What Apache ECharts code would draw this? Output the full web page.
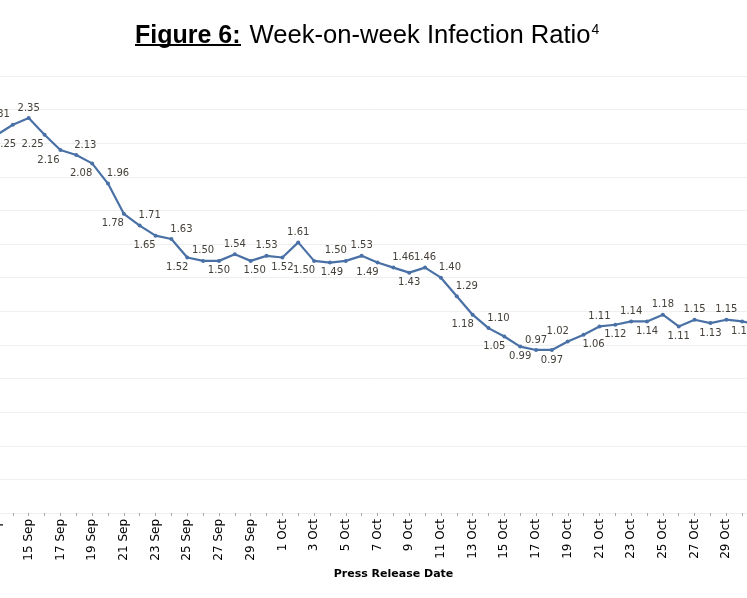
<!DOCTYPE html>
<html>
<head>
<meta charset="utf-8">
<script src="https://cdn.jsdelivr.net/npm/echarts@6/dist/echarts.min.js"></script>
<style>
  html, body { margin: 0; padding: 0; background: #fff; }
  #main { width: 747px; height: 598px; }
</style>
</head>
<body>
<div id="main"></div>
<script>
// press release dates (one per day)
var dates = [
    '13 Sep', '14 Sep', '15 Sep', '16 Sep', '17 Sep', '18 Sep', '19 Sep', '20 Sep', '21 Sep',
    '22 Sep', '23 Sep', '24 Sep', '25 Sep', '26 Sep', '27 Sep', '28 Sep', '29 Sep', '30 Sep',
    '1 Oct', '2 Oct', '3 Oct', '4 Oct', '5 Oct', '6 Oct', '7 Oct', '8 Oct', '9 Oct', '10 Oct',
    '11 Oct', '12 Oct', '13 Oct', '14 Oct', '15 Oct', '16 Oct', '17 Oct', '18 Oct', '19 Oct',
    '20 Oct', '21 Oct', '22 Oct', '23 Oct', '24 Oct', '25 Oct', '26 Oct', '27 Oct', '28 Oct',
    '29 Oct', '30 Oct', '31 Oct'
];

// week-on-week infection ratio
var ratio = [
    2.25, 2.31, 2.35, 2.25, 2.16, 2.13, 2.08, 1.96, 1.78,
    1.71, 1.65, 1.63, 1.52, 1.50, 1.50, 1.54, 1.50, 1.53,
    1.52, 1.61, 1.50, 1.49, 1.50, 1.53, 1.49, 1.46, 1.43, 1.46,
    1.40, 1.29, 1.18, 1.10, 1.05, 0.99, 0.97, 0.97, 1.02,
    1.06, 1.11, 1.12, 1.14, 1.14, 1.18, 1.11, 1.15, 1.13,
    1.15, 1.14, 1.12
];

// where each value label sits: t = above, b = below, number = sideways nudge
var labelSpots = [
    'b8', 't-14', 't0', 'b-12', 'b-12', 't9', 'b-11', 't10', 'b-11',
    't10', 'b-11', 't10', 'b-10', 't0', 'b0', 't0', 'b4', 't0',
    'b0', 't0', 'b-10', 'b2', 't-10', 't0', 'b-10', 't10', 'b0', 't0',
    't9', 't10', 'b-10', 't10', 'b-10', 'b0', 't0', 'b0', 't-10',
    'b10', 't0', 'b0', 't0', 'b0', 't0', 'b0', 't0', 'b0',
    't0', 'b0', 't0'
];

var seriesData = ratio.map(function (v, i) {
    var spot = labelSpots[i];
    return {
        value: v,
        label: {
            position: spot.charAt(0) === 't' ? 'top' : 'bottom',
            offset: [parseInt(spot.slice(1), 10) || 0, 0]
        }
    };
});

var myChart = echarts.init(document.getElementById('main'));

var option = {
    backgroundColor: '#ffffff',
    animation: false,
    title: {
        left: 135,
        top: 21,
        padding: 0,
        text: '{b|Figure 6:}{r|Week-on-week Infection Ratio}{s|4}',
        textStyle: {
            fontWeight: 'normal',
            rich: {
                b: { fontFamily: 'Liberation Sans', fontWeight: 'bold', fontSize: 25, color: '#000', lineHeight: 30 },
                r: { fontFamily: 'Liberation Sans', fontWeight: 'normal', fontSize: 25.6, color: '#000', lineHeight: 30, padding: [0, 0, 0, 9] },
                s: { fontFamily: 'Liberation Sans', fontWeight: 'normal', fontSize: 14, color: '#000', lineHeight: 30, padding: [0, 0, 12, 1] }
            }
        }
    },
    graphic: [
        {
            type: 'line',
            shape: { x1: 135, y1: 45, x2: 241, y2: 45 },
            style: { stroke: '#000', lineWidth: 2 }
        }
    ],
    grid: {
        left: -3,
        right: -11,
        top: 76,
        bottom: 85,
        containLabel: false,
        outerBoundsMode: 'none'
    },
    xAxis: {
        type: 'category',
        data: dates,
        boundaryGap: false,
        name: 'Press Release Date',
        nameLocation: 'middle',
        nameGap: 52,
        nameTextStyle: {
            fontFamily: 'DejaVu Sans',
            fontWeight: 'bold',
            fontSize: 11,
            color: '#000',
            padding: [0, 0, 0, 32]
        },
        axisLine: { show: false },
        axisTick: {
            show: true,
            interval: 0,
            length: 3,
            lineStyle: { color: '#a6a6a6' }
        },
        axisLabel: {
            interval: 1,
            rotate: 90,
            margin: 6,
            fontFamily: 'DejaVu Sans',
            fontSize: 12,
            color: '#000'
        }
    },
    yAxis: {
        type: 'value',
        min: 0,
        max: 2.6,
        interval: 0.2,
        axisLabel: { show: false },
        axisLine: { show: false },
        axisTick: { show: false },
        splitLine: { lineStyle: { color: '#efefef', width: 1 } }
    },
    series: [
        {
            type: 'line',
            data: seriesData,
            symbol: 'circle',
            symbolSize: 4,
            itemStyle: { color: '#4a71a6' },
            lineStyle: { color: '#4a71a6', width: 2.2 },
            label: {
                show: true,
                distance: 3,
                fontFamily: 'DejaVu Sans',
                fontSize: 10,
                color: '#45403a',
                formatter: function (p) { return p.value.toFixed(2); }
            }
        }
    ]
};

myChart.setOption(option);
</script>
</body>
</html>
